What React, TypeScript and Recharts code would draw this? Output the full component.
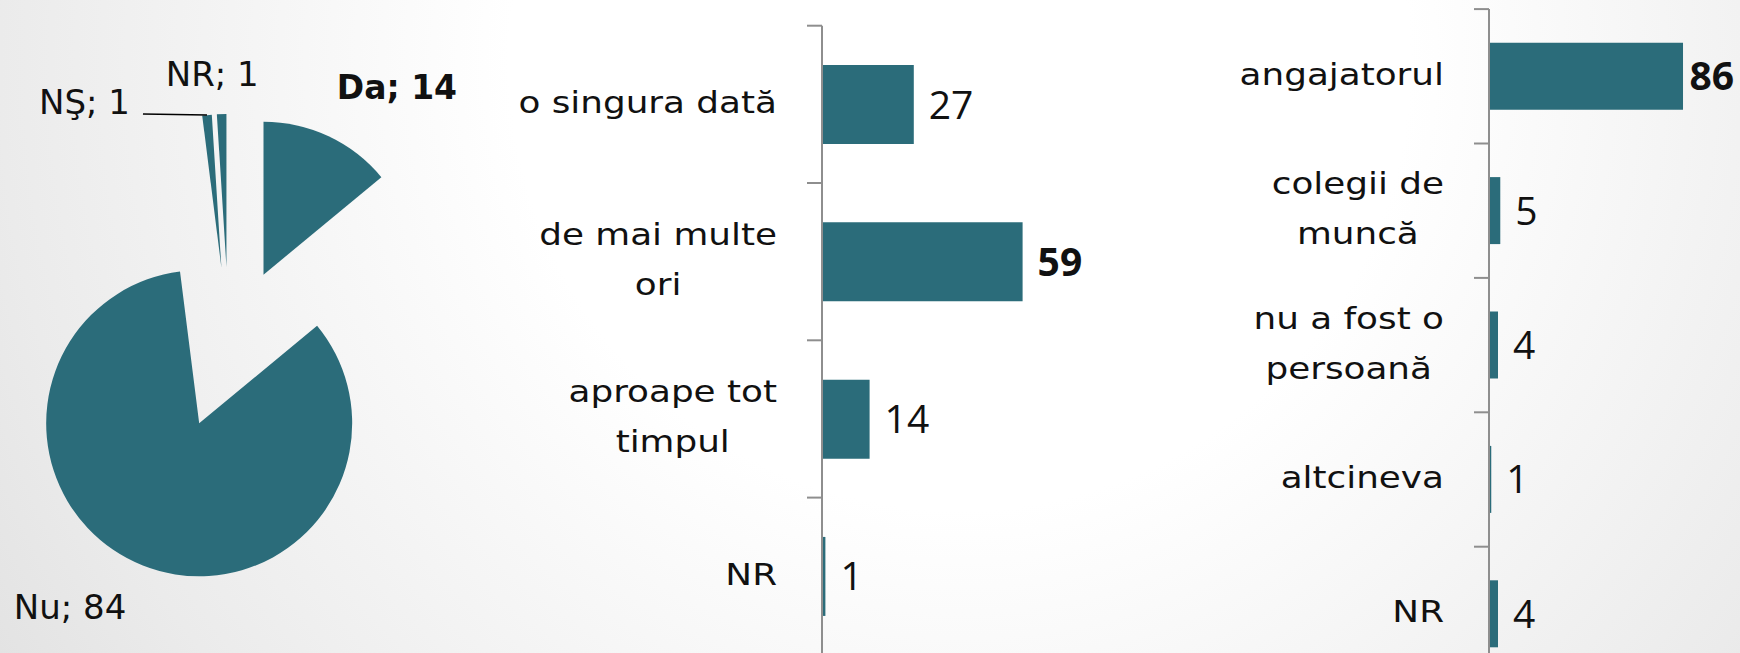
import React from 'react';
import { PieChart, Pie, Cell, BarChart, Bar, XAxis, YAxis, LabelList } from 'recharts';

// ---------- data ----------
const pieNames = ['Da', 'Nu', 'NŞ', 'NR'];
const pieValues = [14, 84, 1, 1];

const freqCategories = ['o singura dată', 'de mai multe\nori', 'aproape tot\ntimpul', 'NR'];
const freqValues = [27, 59, 14, 1];

const whoCategories = ['angajatorul', 'colegii de\nmuncă', 'nu a fost o\npersoană ', 'altcineva', 'NR'];
const whoValues = [86, 5, 4, 1, 4];

// ---------- style ----------
const TEAL = '#2b6c7a';
const AXIS = '#8e8e8e';
const TXT = '#111111';
const RAD = Math.PI / 180;
const CAT_FONT = "'DejaVu Sans'";
const CAT_FS = 31;
const CAT_STRETCH = 1.155;
const VAL_FONT = "'Open Sans'";
const VAL_FS = 39;

const pieData = pieNames.map((name, i) => ({ name, value: pieValues[i] }));
const freqData = freqCategories.map((name, i) => ({ name, value: freqValues[i] }));
const whoData = whoCategories.map((name, i) => ({ name, value: whoValues[i] }));

const PIE_CX = 229;
const PIE_CY = 348;
const PIE_R = 153;
const PIE_EXPLODE = 81;

const pieTotal = pieValues.reduce((a, b) => a + b, 0);
const pieMids: number[] = (() => {
  let cum = 0;
  return pieValues.map((v) => {
    const m = 90 - (360 * (cum + v / 2)) / pieTotal;
    cum += v;
    return m;
  });
})();

let measureCtx: CanvasRenderingContext2D | null = null;
function measure(text: string, font: string): number {
  if (!measureCtx) measureCtx = document.createElement('canvas').getContext('2d');
  if (!measureCtx) return text.length * 18;
  measureCtx.font = font;
  return measureCtx.measureText(text).width;
}

// small label nudges (label placement style, like Excel's best-fit)
const labelNudge = (name: string): [number, number] => {
  if (name === 'Da') return [-11, -9];
  if (name === 'NR') return [-8, 5];
  return [0, 0];
};

const makePieLabel = (k: number) => (p: any) => {
  const idx = p.index ?? pieNames.indexOf(p.name);
  if (idx !== k) return null;
  const { cx, cy, midAngle, outerRadius, name, value } = p;
  const ux = Math.cos(-midAngle * RAD);
  const uy = Math.sin(-midAngle * RAD);
  const px = cx + outerRadius * ux;
  const py = cy + outerRadius * uy;
  const text = `${name}; ${value}`;
  const bold = name === 'Da';
  const fs = bold ? 33 : 34;
  if (name === 'NŞ') {
    return (
      <g>
        <line x1={px} y1={py} x2={px - 64} y2={py - 1} stroke="#000" strokeWidth={1.5} />
        <text x={px - 77} y={py - 1} textAnchor="end" fontFamily={CAT_FONT} fontSize={fs} fill={TXT}>
          {text}
        </text>
      </g>
    );
  }
  const L = 45;
  const [nx, ny] = labelNudge(name);
  const qx = px + L * ux + nx;
  const qy = py + L * uy + ny;
  const anchor = ux > 0.2 ? 'start' : ux < -0.2 ? 'end' : 'middle';
  return (
    <text
      x={qx}
      y={qy + 12}
      textAnchor={anchor}
      fontFamily={CAT_FONT}
      fontSize={fs}
      fontWeight={bold ? 700 : 400}
      fill={TXT}
    >
      {text}
    </text>
  );
};

const makeCatTick = (axisX: number, halfBand: number, count: number) => (props: any) => {
  const { y, payload, index } = props;
  const off = payload && typeof payload.offset === 'number' && payload.offset > 0 ? payload.offset : halfBand;
  const lines = String(payload.value).split('\n');
  const font = `${CAT_FS}px ${CAT_FONT}`;
  const maxW = Math.max(...lines.map((l) => measure(l, font) * CAT_STRETCH));
  const right = axisX - 45;
  const cxText = right - maxW / 2;
  const spacing = 50;
  return (
    <g>
      <line x1={axisX - 15} x2={axisX} y1={y - off} y2={y - off} stroke={AXIS} strokeWidth={2} />
      {index === count - 1 && (
        <line x1={axisX - 15} x2={axisX} y1={y + off} y2={y + off} stroke={AXIS} strokeWidth={2} />
      )}
      {lines.map((ln, i) => {
        const cyLine = y + (i - (lines.length - 1) / 2) * spacing;
        return (
          <g key={i} transform={`translate(${cxText} ${cyLine + 8.5}) scale(${CAT_STRETCH} 1)`}>
            <text x={0} y={0} textAnchor="middle" fontFamily={CAT_FONT} fontSize={CAT_FS} fill={TXT}>
              {ln}
            </text>
          </g>
        );
      })}
    </g>
  );
};

const makeValueLabel = (limit: number, maxVal: number) => (props: any) => {
  const { x, y, width, height, value } = props;
  const bold = value === maxVal;
  const font = `${bold ? 700 : 400} ${VAL_FS}px ${VAL_FONT}`;
  const tw = measure(String(value), font);
  let lx = Number(x) + Number(width) + 15;
  if (lx + tw > limit) lx = limit - tw;
  return (
    <text
      x={lx}
      y={Number(y) + Number(height) / 2 + 14}
      fontFamily={VAL_FONT}
      fontSize={VAL_FS}
      fontWeight={bold ? 700 : 400}
      fill={TXT}
    >
      {value}
    </text>
  );
};

// layout of bar charts
const MID = { left: 480, w: 700, h: 680, top: 25.7, axisW: 342, plotW: 340, plotH: 629.2 };
const RIGHT = { left: 1100, w: 640, h: 700, top: 9.1, axisW: 389, plotW: 225.6, plotH: 672 };

export default function App() {
  const midTick = makeCatTick(MID.axisW, MID.plotH / freqData.length / 2, freqData.length);
  const rightTick = makeCatTick(RIGHT.axisW, RIGHT.plotH / whoData.length / 2, whoData.length);
  const freqMax = Math.max(...freqValues);
  const whoMax = Math.max(...whoValues);

  return (
    <div
      style={{
        position: 'absolute',
        left: 0,
        top: 0,
        width: 1740,
        height: 653,
        overflow: 'hidden',
        background:
          'radial-gradient(circle 1150px at 960px 60px, #ffffff 0px, #ffffff 450px, #ebebeb 960px, #e2e2e2 1150px)',
      }}
    >
      <div style={{ position: 'absolute', left: 0, top: 0 }}>
        <PieChart width={480} height={653} margin={{ top: 0, right: 0, bottom: 0, left: 0 }}>
          {pieData.map((_, k) => (
            <Pie
              key={k}
              data={pieData}
              dataKey="value"
              nameKey="name"
              cx={PIE_CX + PIE_EXPLODE * Math.cos(pieMids[k] * RAD)}
              cy={PIE_CY - PIE_EXPLODE * Math.sin(pieMids[k] * RAD)}
              outerRadius={PIE_R}
              startAngle={90}
              endAngle={-270}
              stroke="none"
              isAnimationActive={false}
              labelLine={false}
              label={makePieLabel(k)}
            >
              {pieData.map((__, i) => (
                <Cell key={i} fill={i === k ? TEAL : 'transparent'} stroke="none" />
              ))}
            </Pie>
          ))}
        </PieChart>
      </div>

      <div style={{ position: 'absolute', left: MID.left, top: 0 }}>
        <BarChart
          width={MID.w}
          height={MID.h}
          data={freqData}
          layout="vertical"
          barCategoryGap="25%"
          margin={{ top: MID.top, right: MID.w - MID.axisW - MID.plotW, bottom: MID.h - MID.top - MID.plotH, left: 0 }}
        >
          <XAxis type="number" domain={[0, 100]} hide />
          <YAxis
            type="category"
            dataKey="name"
            width={MID.axisW}
            interval={0}
            axisLine={{ stroke: AXIS, strokeWidth: 2 }}
            tickLine={false}
            tick={midTick}
          />
          <Bar dataKey="value" fill={TEAL} isAnimationActive={false}>
            <LabelList dataKey="value" content={makeValueLabel(10000, freqMax)} />
          </Bar>
        </BarChart>
      </div>

      <div style={{ position: 'absolute', left: RIGHT.left, top: 0 }}>
        <BarChart
          width={RIGHT.w}
          height={RIGHT.h}
          data={whoData}
          layout="vertical"
          barCategoryGap="25%"
          margin={{
            top: RIGHT.top,
            right: RIGHT.w - RIGHT.axisW - RIGHT.plotW,
            bottom: RIGHT.h - RIGHT.top - RIGHT.plotH,
            left: 0,
          }}
        >
          <XAxis type="number" domain={[0, 100]} hide />
          <YAxis
            type="category"
            dataKey="name"
            width={RIGHT.axisW}
            interval={0}
            axisLine={{ stroke: AXIS, strokeWidth: 2 }}
            tickLine={false}
            tick={rightTick}
          />
          <Bar dataKey="value" fill={TEAL} isAnimationActive={false}>
            <LabelList dataKey="value" content={makeValueLabel(RIGHT.w - 6, whoMax)} />
          </Bar>
        </BarChart>
      </div>
    </div>
  );
}
